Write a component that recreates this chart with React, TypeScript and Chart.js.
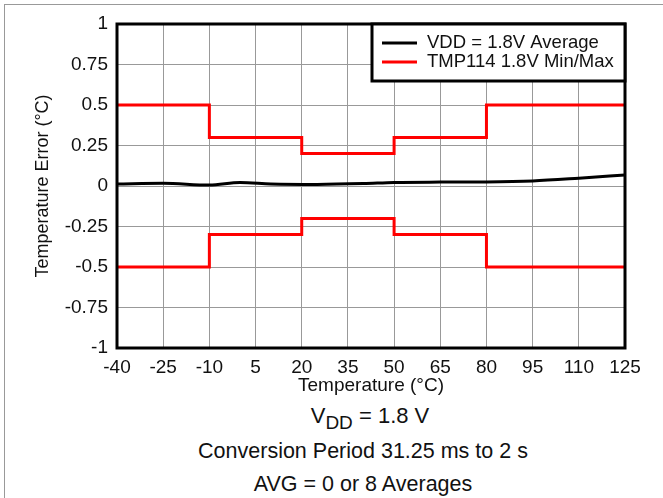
import React, { useEffect, useRef } from "react";
import { Chart, registerables } from "chart.js";

Chart.register(...registerables);

// ---- data ----
const xTicks = [-40, -25, -10, 5, 20, 35, 50, 65, 80, 95, 110, 125];
const yTicks = [1, 0.75, 0.5, 0.25, 0, -0.25, -0.5, -0.75, -1];

const avgTemps = [-40, -25, -10, 0, 10, 25, 40, 50, 65, 80, 95, 110, 125];
const avgErrors = [0.013, 0.017, 0.006, 0.022, 0.013, 0.01, 0.015, 0.022, 0.024, 0.025, 0.031, 0.048, 0.068];

const limitTemps = [-40, -10, 20, 50, 80, 125];
const maxLimits = [0.5, 0.3, 0.2, 0.3, 0.5, 0.5];
const minLimits = [-0.5, -0.3, -0.2, -0.3, -0.5, -0.5];

const avgLabel = "VDD = 1.8V Average";
const limitLabel = "TMP114 1.8V Min/Max";

const FONT = "'Liberation Sans', Arial, sans-serif";

const frameLegendPlugin = {
  id: "frameLegend",
  afterDraw(chart: any) {
    const { ctx, chartArea } = chart;
    const { left, top, right, bottom } = chartArea;
    ctx.save();
    // plot frame
    ctx.strokeStyle = "#000";
    ctx.lineWidth = 3;
    ctx.strokeRect(left, top, right - left, bottom - top);

    // legend box
    const entries = chart.data.datasets.filter((d: any) => d.inLegend);
    const boxLeft = 372;
    const boxTop = top;
    const boxRight = right;
    const boxBottom = 81;
    ctx.fillStyle = "#fff";
    ctx.fillRect(boxLeft, boxTop, boxRight - boxLeft, boxBottom - boxTop);
    ctx.lineWidth = 3;
    ctx.strokeStyle = "#000";
    ctx.strokeRect(boxLeft, boxTop, boxRight - boxLeft, boxBottom - boxTop);
    ctx.font = `18.5px ${FONT}`;
    ctx.textBaseline = "middle";
    ctx.textAlign = "left";
    const rowYs = [43, 62];
    entries.forEach((d: any, i: number) => {
      const y = rowYs[i];
      ctx.strokeStyle = d.borderColor;
      ctx.lineWidth = 3;
      ctx.beginPath();
      ctx.moveTo(382, y);
      ctx.lineTo(417, y);
      ctx.stroke();
      ctx.fillStyle = "#111";
      ctx.fillText(d.label, 427, y);
    });
    ctx.restore();
  },
};

export default function App() {
  const ref = useRef<HTMLCanvasElement | null>(null);

  useEffect(() => {
    if (!ref.current) return;
    const chart = new Chart(ref.current, {
      type: "line",
      data: {
        datasets: [
          {
            label: avgLabel,
            inLegend: true,
            data: avgTemps.map((x, i) => ({ x, y: avgErrors[i] })),
            borderColor: "#000",
            borderWidth: 3,
            pointRadius: 0,
            tension: 0.4,
            cubicInterpolationMode: "monotone",
          } as any,
          {
            label: limitLabel,
            inLegend: true,
            data: limitTemps.map((x, i) => ({ x, y: maxLimits[i] })),
            borderColor: "#ff0000",
            borderWidth: 3,
            pointRadius: 0,
            stepped: "before",
          } as any,
          {
            label: limitLabel,
            inLegend: false,
            data: limitTemps.map((x, i) => ({ x, y: minLimits[i] })),
            borderColor: "#ff0000",
            borderWidth: 3,
            pointRadius: 0,
            stepped: "before",
          } as any,
        ],
      },
      options: {
        animation: false,
        responsive: true,
        maintainAspectRatio: false,
        layout: { padding: { left: 0, right: 38, top: 24, bottom: 0 } },
        plugins: { legend: { display: false }, tooltip: { enabled: false } },
        scales: {
          x: {
            type: "linear",
            min: -40,
            max: 125,
            afterBuildTicks: (scale: any) => {
              scale.ticks = xTicks.map((v) => ({ value: v }));
            },
            afterFit: (scale: any) => {
              scale.height = 52;
            },
            grid: { color: "#999", lineWidth: 1, drawTicks: false },
            border: { display: false },
            ticks: {
              color: "#111",
              font: { family: FONT, size: 19 },
              padding: 8,
              maxRotation: 0,
              autoSkip: false,
              callback: (v: any) => String(v),
            },
            title: {
              display: true,
              text: "Temperature (°C)",
              color: "#111",
              font: { family: FONT, size: 19 },
              padding: { top: 0, bottom: 3 },
            },
          },
          y: {
            type: "linear",
            min: -1,
            max: 1,
            afterBuildTicks: (scale: any) => {
              scale.ticks = yTicks.map((v) => ({ value: v }));
            },
            afterFit: (scale: any) => {
              scale.width = 117;
            },
            grid: { color: "#999", lineWidth: 1, drawTicks: false },
            border: { display: false },
            ticks: {
              color: "#111",
              font: { family: FONT, size: 19 },
              padding: 9,
              autoSkip: false,
              callback: (v: any) => String(v),
            },
            title: {
              display: true,
              text: "Temperature Error (°C)",
              color: "#111",
              font: { family: FONT, size: 18 },
              padding: { top: 32, bottom: 0 },
            },
          },
        },
      } as any,
      plugins: [frameLegendPlugin],
    });
    return () => chart.destroy();
  }, []);

  const noteStyle: React.CSSProperties = {
    position: "absolute",
    left: 163,
    width: 400,
    textAlign: "center",
    fontFamily: FONT,
    fontSize: 21.5,
    color: "#111",
    lineHeight: "24px",
    whiteSpace: "nowrap",
  };

  return (
    <div
      style={{
        position: "fixed",
        left: 0,
        top: 0,
        width: 663,
        height: 498,
        overflow: "hidden",
        background: "#fff",
      }}
    >
      <div
        style={{
          position: "absolute",
          left: 4,
          top: 4,
          width: 700,
          height: 600,
          borderLeft: "1px solid #999",
          borderTop: "1px solid #999",
        }}
      />
      <div style={{ position: "absolute", left: 0, top: 0, width: 663, height: 400 }}>
        <canvas ref={ref} />
      </div>
      <div style={{ ...noteStyle, left: 170, top: 404, fontSize: 22 }}>
        V<sub style={{ fontSize: 19, verticalAlign: "-6px", lineHeight: 0 }}>DD</sub> = 1.8 V
      </div>
      <div style={{ ...noteStyle, top: 439 }}>Conversion Period 31.25 ms to 2 s</div>
      <div style={{ ...noteStyle, top: 472 }}>AVG = 0 or 8 Averages</div>
    </div>
  );
}
